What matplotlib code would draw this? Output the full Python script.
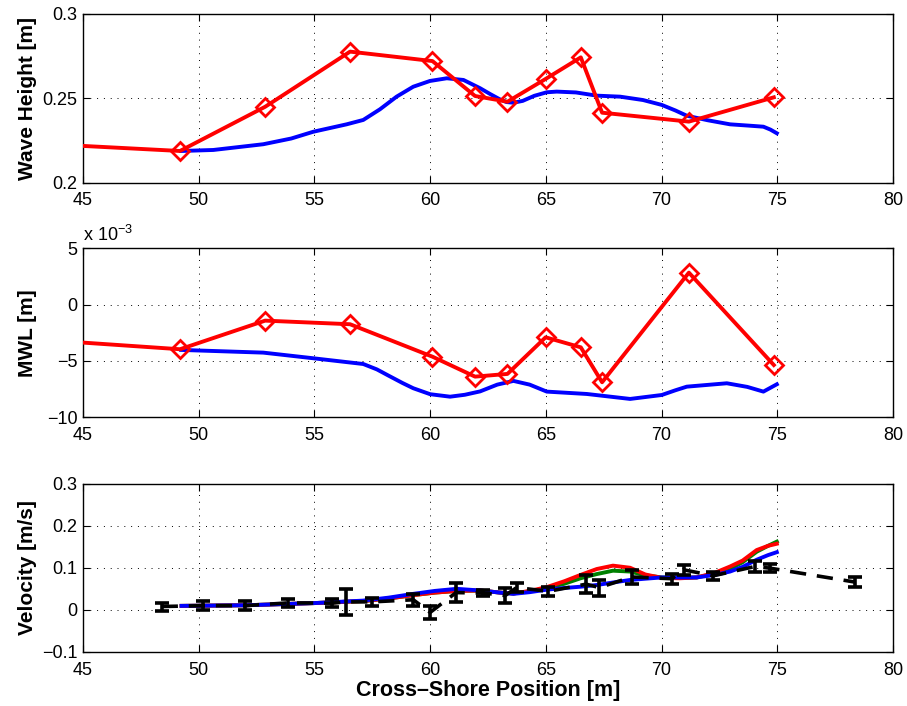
import matplotlib
matplotlib.use("Agg")
import matplotlib.pyplot as plt
import numpy as np

plt.rcParams['font.family'] = ['Liberation Sans', 'DejaVu Sans']

# measured points (red diamonds), first point is line start at x=45 (no marker)
meas_x = [45.0, 49.19, 52.87, 56.54, 60.10, 61.94, 63.34, 64.99, 66.51, 67.43, 71.18, 74.85]
meas_h = [0.2218, 0.2188, 0.2450, 0.2777, 0.2721, 0.2514, 0.2480, 0.2615, 0.2743, 0.2415, 0.2362, 0.2506]
meas_mwl = [-3.37, -3.96, -1.42, -1.74, -4.62, -6.39, -6.15, -2.90, -3.79, -6.89, 2.84, -5.36]  # x 1e-3 m

# model wave height (blue)
mod_h_x = [49.24, 50.63, 52.79, 54.0, 54.95, 56.39, 57.11, 57.83, 58.55, 59.27, 59.99, 60.72, 61.44,
           62.16, 62.6, 63.0, 63.30, 63.60, 64.0, 64.5, 65.04, 65.47, 66.3, 67.20, 68.21, 69.2,
           70.01, 70.6, 71.09, 72.0, 72.96, 73.8, 74.40, 74.7, 74.98]
mod_h = [0.2188, 0.2194, 0.2228, 0.2262, 0.2302, 0.2346, 0.2372, 0.2435, 0.2510, 0.2569, 0.2603, 0.2619,
         0.2609, 0.2560, 0.2525, 0.2495, 0.2478, 0.2474, 0.2485, 0.2515, 0.2536, 0.2540, 0.2535, 0.2516,
         0.2510, 0.2490, 0.2461, 0.2428, 0.2397, 0.2370, 0.2346, 0.2338, 0.2332, 0.2315, 0.2293]

# model MWL (blue), x 1e-3 m
mod_mwl_x = [49.24, 52.79, 54.95, 57.11, 57.7, 58.2, 58.8, 59.27, 60.0, 60.86, 61.5, 62.16, 62.9,
             63.60, 64.3, 65.04, 66.77, 68.64, 70.01, 70.6, 71.09, 72.82, 73.7, 74.40, 74.98]
mod_mwl = [-4.02, -4.26, -4.76, -5.27, -5.75, -6.3, -6.95, -7.42, -7.95, -8.17, -8.0, -7.7, -7.1,
           -6.77, -7.1, -7.72, -7.93, -8.37, -8.02, -7.6, -7.28, -6.98, -7.3, -7.72, -7.07]

# velocity models
vel_x = [49.26, 52.07, 54.95, 57.11, 58.2, 59.27, 60.2, 61.15, 62.16, 63.02, 63.60, 64.3,
         65.04, 65.8, 66.5, 67.20, 67.9, 68.64, 69.3, 70.01, 70.8, 71.52, 72.3, 72.96, 73.5,
         74.11, 74.6, 74.98]
vel_blue = [0.0095, 0.011, 0.016, 0.022, 0.029, 0.038, 0.045, 0.050, 0.046, 0.041, 0.038, 0.042,
            0.048, 0.052, 0.055, 0.059, 0.065, 0.071, 0.074, 0.077, 0.077, 0.077, 0.083, 0.091, 0.102,
            0.119, 0.130, 0.137]
vel_red = [0.0095, 0.011, 0.016, 0.021, 0.027, 0.035, 0.041, 0.045, 0.046, 0.041, 0.039, 0.045,
           0.054, 0.068, 0.083, 0.097, 0.105, 0.100, 0.084, 0.076, 0.075, 0.077, 0.088, 0.103, 0.117,
           0.142, 0.152, 0.157]
vel_green = [0.0095, 0.011, 0.016, 0.021, 0.027, 0.035, 0.041, 0.045, 0.046, 0.041, 0.039, 0.044,
             0.052, 0.062, 0.075, 0.085, 0.093, 0.091, 0.082, 0.077, 0.076, 0.077, 0.086, 0.098, 0.113,
             0.138, 0.152, 0.162]

# measured velocity with error bars
obs_x = [48.40, 50.2, 52.0, 53.87, 55.75, 56.35, 57.50, 59.27, 60.0, 61.12, 62.3, 63.24,
         63.74, 65.11, 66.74, 67.31, 68.71, 70.44, 70.97, 72.24, 74.04, 74.69, 78.36]
obs_v = [0.008, 0.010, 0.010, 0.0166, 0.016, 0.019, 0.019, 0.024, -0.006, 0.041, 0.040, 0.034,
         0.053, 0.044, 0.061, 0.053, 0.078, 0.074, 0.095, 0.081, 0.103, 0.099, 0.066]
obs_err = [0.0095, 0.010, 0.010, 0.009, 0.010, 0.030, 0.009, 0.014, 0.016, 0.022, 0.006, 0.018,
           0.010, 0.010, 0.022, 0.019, 0.016, 0.012, 0.012, 0.010, 0.012, 0.010, 0.012]

W, H = 907, 706
fig = plt.figure(figsize=(W / 100, H / 100), dpi=100)

def px_axes(x0, x1, y0, y1):
    return fig.add_axes([x0 / W, 1 - y1 / H, (x1 - x0) / W, (y1 - y0) / H])

ax1 = px_axes(83, 893, 14, 182.7)
ax2 = px_axes(83, 893, 248.3, 417.3)
ax3 = px_axes(83, 893, 483.5, 652)

lw = 2.8
ax1.plot(mod_h_x, mod_h, color='b', lw=lw, zorder=3)
ax1.plot(meas_x, meas_h, color='r', lw=lw, marker='D', ms=9, mfc='none', mew=2,
         markevery=list(range(1, len(meas_x))), zorder=4)
ax1.set_ylim(0.2, 0.3)
ax1.set_yticks([0.2, 0.25, 0.3])
ax1.set_yticklabels(['0.2', '0.25', '0.3'])
ax1.set_ylabel('Wave Height [m]', fontweight='bold', fontsize=15)

ax2.plot(mod_mwl_x, mod_mwl, color='b', lw=lw, zorder=3)
ax2.plot(meas_x, meas_mwl, color='r', lw=lw, marker='D', ms=9, mfc='none', mew=2,
         markevery=list(range(1, len(meas_x))), zorder=4)
ax2.set_ylim(-10, 5)
ax2.set_yticks([-10, -5, 0, 5])
ax2.set_yticklabels(['\u221210', '\u22125', '0', '5'])
ax2.set_ylabel('MWL [m]', fontweight='bold', fontsize=15)
ax2.text(0.0, 1.02, 'x 10$^{\\mathregular{\u22123}}$', transform=ax2.transAxes,
         fontsize=13, ha='left', va='bottom')

ax3.errorbar(obs_x, obs_v, yerr=obs_err, fmt='--', color='k', lw=2.6, dashes=(4.5, 3),
             elinewidth=2.6, capsize=5, capthick=2.6, zorder=5)
ax3.plot(vel_x, vel_green, color='g', lw=lw, zorder=3)
ax3.plot(vel_x, vel_red, color='r', lw=lw, zorder=3.5)
ax3.plot(vel_x, vel_blue, color='b', lw=lw, zorder=4)
ax3.set_ylim(-0.1, 0.3)
ax3.set_yticks([-0.1, 0, 0.1, 0.2, 0.3])
ax3.set_yticklabels(['\u22120.1', '0', '0.1', '0.2', '0.3'])
ax3.set_ylabel('Velocity [m/s]', fontweight='bold', fontsize=15)
ax3.set_xlabel('Cross\u2013Shore Position [m]', fontweight='bold', fontsize=15.5, labelpad=1)

for ax in (ax1, ax2, ax3):
    ax.set_xlim(45, 80)
    ax.set_xticks([45, 50, 55, 60, 65, 70, 75, 80])
    ax.grid(True, color='k', linestyle=(0, (1, 6)), linewidth=0.7)
    ax.tick_params(direction='in', top=True, right=True, labelsize=13, length=5)
    ax.tick_params(axis='x', pad=7)
    ax.tick_params(axis='y', pad=4)
    for sp in ax.spines.values():
        sp.set_linewidth(1.0)
    ax.yaxis.set_label_coords(-0.057, 0.5)

fig.savefig('out.png', dpi=100)
